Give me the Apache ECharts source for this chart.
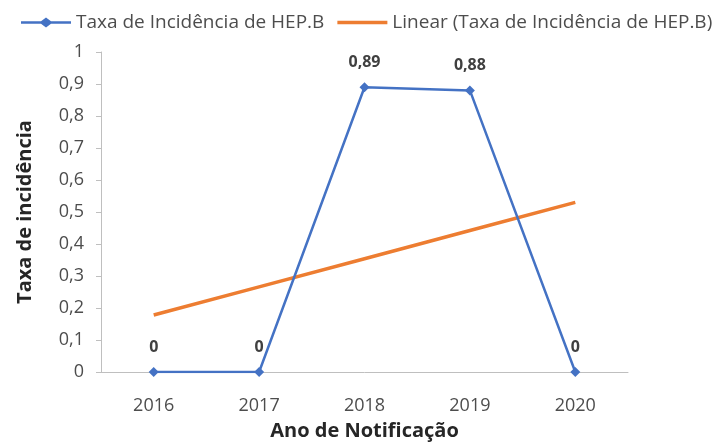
<!DOCTYPE html>
<html>
<head>
<meta charset="utf-8">
<script src="https://cdn.jsdelivr.net/npm/echarts@6/dist/echarts.min.js"></script>
<style>
html, body { margin: 0; padding: 0; background: #fff; }
#chart { width: 723px; height: 442px; }
</style>
</head>
<body>
<div id="chart"></div>
<script>
var anos = ['2016', '2017', '2018', '2019', '2020'];
var taxa = [0, 0, 0.89, 0.88, 0];
var tendencia = [0.178, 0.266, 0.354, 0.442, 0.53];
var yTicks = [0, 0.1, 0.2, 0.3, 0.4, 0.5, 0.6, 0.7, 0.8, 0.9, 1];

var fonte = '"Open Sans", "Noto Sans", sans-serif';
var cinza = '#4d4d4d';

var myChart = echarts.init(document.getElementById('chart'));
var option = {
	animation: false,
	textStyle: { fontFamily: fonte },
	legend: {
		left: 21,
		top: 13,
		padding: 0,
		itemWidth: 50,
		itemHeight: 10,
		itemGap: 13,
		textStyle: { fontSize: 19, color: cinza, fontFamily: fonte },
		data: [
			{ name: 'Taxa de Incidência de HEP.B', icon: 'path://M0,3.8 L20,3.8 L25,0 L30,3.8 L50,3.8 L50,6.2 L30,6.2 L25,10 L20,6.2 L0,6.2 Z' },
			{ name: 'Linear (Taxa de Incidência de HEP.B)', icon: 'path://M0,3.2 L50,3.2 L50,6.8 L0,6.8 Z', itemStyle: { color: '#ED7D31' } }
		]
	},
	grid: {
		left: 101,
		right: 95,
		top: 52,
		bottom: 70,
		outerBoundsMode: 'none'
	},
	xAxis: {
		type: 'category',
		data: anos,
		name: 'Ano de Notificação',
		nameLocation: 'middle',
		nameGap: 49,
		nameTextStyle: { fontSize: 20, fontWeight: 'bold', color: '#262626', fontFamily: fonte },
		axisLine: { lineStyle: { color: '#BFBFBF', width: 1 } },
		axisTick: { show: false },
		axisLabel: { fontSize: 18, color: cinza, margin: 25, fontFamily: fonte }
	},
	yAxis: {
		type: 'value',
		min: 0,
		max: 1,
		interval: 0.1,
		name: 'Taxa de incidência',
		nameLocation: 'middle',
		nameGap: 66,
		nameTextStyle: { fontSize: 20, fontWeight: 'bold', color: '#262626', fontFamily: fonte },
		splitLine: { show: false },
		axisLine: { show: true, lineStyle: { color: '#BFBFBF', width: 1 } },
		axisTick: { show: true, inside: false, length: 5, lineStyle: { color: '#BFBFBF' } },
		axisLabel: {
			fontSize: 18,
			color: cinza,
			margin: 17,
			fontFamily: fonte,
			formatter: function (v) {
				return String(Math.round(v * 10) / 10).replace('.', ',');
			}
		}
	},
	series: [
		{
			name: 'Taxa de Incidência de HEP.B',
			type: 'line',
			data: taxa,
			symbol: 'diamond',
			symbolSize: 10,
			z: 3,
			itemStyle: { color: '#4472C4' },
			lineStyle: { color: '#4472C4', width: 2.5 },
			label: {
				show: true,
				position: 'top',
				distance: 12,
				fontSize: 16,
				fontWeight: 'bold',
				color: '#404040',
				fontFamily: fonte,
				formatter: function (p) {
					return String(p.value).replace('.', ',');
				}
			}
		},
		{
			name: 'Linear (Taxa de Incidência de HEP.B)',
			type: 'line',
			data: tendencia,
			showSymbol: false,
			symbol: 'none',
			z: 2,
			itemStyle: { color: '#ED7D31' },
			lineStyle: { color: '#ED7D31', width: 3.5 }
		}
	]
};
myChart.setOption(option);
</script>
</body>
</html>
